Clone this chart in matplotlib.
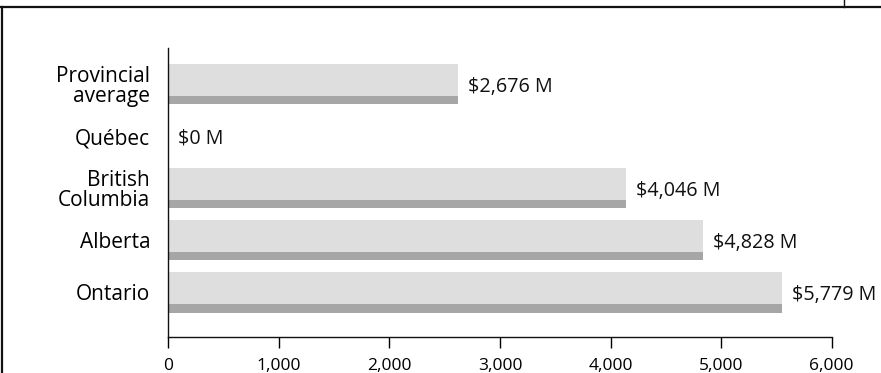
import matplotlib
matplotlib.use("Agg")
import matplotlib.pyplot as plt
from matplotlib.lines import Line2D

categories = ["Ontario", "Alberta", "British\nColumbia", "Québec", "Provincial\naverage"]
bar_values = [5555, 4832, 4136, 0, 2619]
label_values = [5779, 4828, 4046, 0, 2676]
xticks = [0, 1000, 2000, 3000, 4000, 5000, 6000]

LIGHT = "#dedede"
DARK = "#a6a6a6"
plt.rcParams['font.family'] = ['Open Sans', 'DejaVu Sans']

W, H = 881, 373
fig = plt.figure(figsize=(W / 100, H / 100), dpi=100)
x0, x1 = 168.3, 831.7
y_top, y_bot = 48, 337
ax = fig.add_axes([x0 / W, (H - y_bot) / H, (x1 - x0) / W, (y_bot - y_top) / H])

pos = list(range(len(categories)))
bh = 0.77
dark_h = 0.17
ax.barh(pos, bar_values, height=bh, color=LIGHT, linewidth=0)
ax.barh([p - bh / 2 + dark_h / 2 for p in pos], bar_values, height=dark_h, color=DARK, linewidth=0)

for p, bv, lv in zip(pos, bar_values, label_values):
    ax.annotate(f"${lv:,} M", xy=(bv, p), xytext=(10, -2.5), textcoords="offset pixels",
                ha="left", va="center", fontsize=14.2, color="#111111")

ax.set_xlim(0, 6000)
ax.set_ylim(-0.856, 4.70)
ax.set_xticks(xticks)
ax.set_xticklabels([f"{t:,}" for t in xticks], fontsize=12.5)
ax.set_yticks(pos)
ax.set_yticklabels(categories, fontsize=15, multialignment="right", linespacing=0.95)
ax.tick_params(axis="y", length=0, pad=13)
ax.tick_params(axis="x", length=8, width=1, pad=7, direction="out")
for s in ["top", "right"]:
    ax.spines[s].set_visible(False)
for s in ["left", "bottom"]:
    ax.spines[s].set_linewidth(1)
    ax.spines[s].set_color("#111111")

# figure frame lines
fig.add_artist(Line2D([0, 1], [(H - 7) / H, (H - 7) / H], transform=fig.transFigure, color="#111111", lw=1.6))
fig.add_artist(Line2D([1.5 / W, 1.5 / W], [0, (H - 7) / H], transform=fig.transFigure, color="#111111", lw=1.6))
fig.add_artist(Line2D([844 / W, 844 / W], [(H - 7) / H, 1], transform=fig.transFigure, color="#111111", lw=1))

fig.savefig("out.png", dpi=100)
